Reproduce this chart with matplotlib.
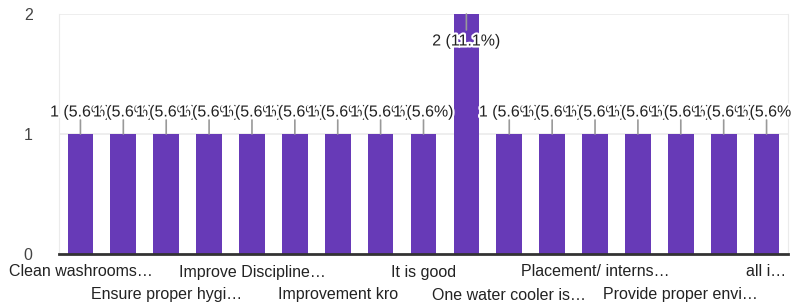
import matplotlib
matplotlib.use("Agg")
import matplotlib.pyplot as plt
import matplotlib.patheffects as pe
import matplotlib.transforms as mtransforms

# Responses per suggestion (Google Forms style summary)
categories = [
    "Clean washrooms\u2026", "", "Ensure proper hygi\u2026", "",
    "Improve Discipline\u2026", "", "Improvement kro", "",
    "It is good", "", "One water cooler is\u2026", "",
    "Placement/ interns\u2026", "", "Provide proper envi\u2026", "",
    "all i\u2026",
]
values = [1, 1, 1, 1, 1, 1, 1, 1, 1, 2, 1, 1, 1, 1, 1, 1, 1]
y_ticks = [0, 1, 2]

total = 18
bar_color = "#673ab7"
text_color = "#222222"
fs = 11.5
plt.rcParams["font.family"] = ["Liberation Sans", "DejaVu Sans"]

fig = plt.figure(figsize=(7.91, 3.03), dpi=100)
ax = fig.add_axes([59 / 791, 49 / 303, 729 / 791, 240 / 303])

x = list(range(len(values)))
ax.bar(x, values, width=0.6, color=bar_color, zorder=2)

ax.set_xlim(-0.5, len(values) - 0.5)
ax.set_ylim(0, 2)
ax.set_yticks(y_ticks)
ax.set_yticklabels([str(t) for t in y_ticks], fontsize=fs, color="#444444")
ax.tick_params(axis="y", length=0, pad=19)

# grid
for t in y_ticks[1:]:
    ax.axhline(t, color="#ebebeb", lw=1.2, zorder=0)

ax.spines["top"].set_visible(False)
ax.spines["left"].set_color("#ebebeb")
ax.spines["right"].set_color("#ebebeb")
ax.spines["bottom"].set_color("#333333")
ax.spines["bottom"].set_linewidth(2)
ax.spines["bottom"].set_zorder(4)

# x labels, every other category, on two alternating rows
ax.set_xticks([])
trans = mtransforms.blended_transform_factory(ax.transData, ax.transAxes)
for i, c in enumerate(categories):
    if i % 2 == 1 or not c:
        continue
    row = 1 if i % 4 == 2 else 0
    ax.annotate(c, xy=(i, 0), xycoords=trans, xytext=(0, -18 - row * 23),
                textcoords="offset pixels", ha="center", va="center",
                fontsize=fs, color=text_color, annotation_clip=False)

# value labels with stub lines
top = max(values)
for i, v in enumerate(values):
    pct = v / total * 100
    label = f"{v} ({pct:.1f}%)"
    if v == top:
        line_off, text_off = -16, -27
    else:
        line_off, text_off = 14, 22
    ax.annotate("", xy=(i, v), xytext=(0, line_off), textcoords="offset pixels",
                arrowprops=dict(arrowstyle="-", color="#999999", lw=1.2,
                                shrinkA=0, shrinkB=0), zorder=3)
    ax.annotate(label, xy=(i, v), xytext=(0, text_off), textcoords="offset pixels",
                ha="center", va="center", fontsize=fs, color=text_color, zorder=5,
                annotation_clip=False,
                path_effects=[pe.withStroke(linewidth=3, foreground="white")])

fig.savefig("out.png", dpi=100)
